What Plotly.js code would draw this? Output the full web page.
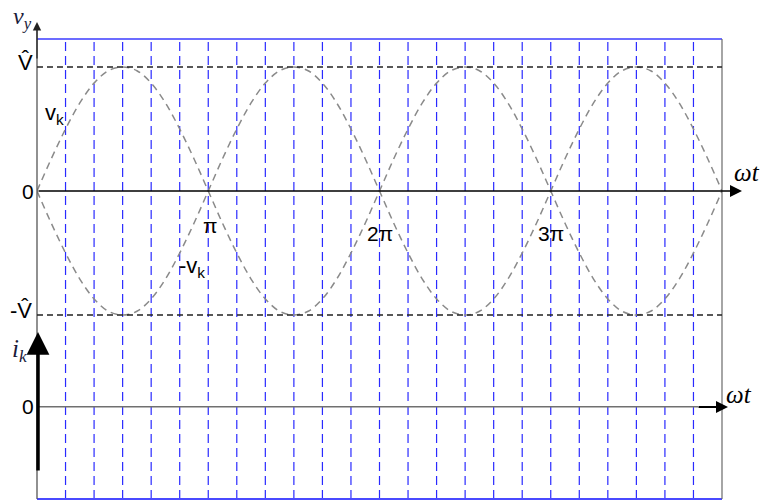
<!DOCTYPE html>
<html>
<head>
<meta charset="utf-8">
<script src="https://cdn.plot.ly/plotly-3.0.1.min.js"></script>
<style>html,body{margin:0;padding:0;background:#fff;}#chart{width:774px;height:504px;}</style>
</head>
<body>
<div id="chart"></div>
<script>
// ---- data ----
// angle samples, in units of pi/12 (0 .. 4*pi)
var sampleSteps = [0,1,2,3,4,5,6,7,8,9,10,11,12,13,14,15,16,17,18,19,20,21,22,23,24,
  25,26,27,28,29,30,31,32,33,34,35,36,37,38,39,40,41,42,43,44,45,46,47,48];
// v_k (in units of V-hat)
var vk = [0,0.26,0.5,0.71,0.87,0.97,1,0.97,0.87,0.71,0.5,0.26,0,
  -0.26,-0.5,-0.71,-0.87,-0.97,-1,-0.97,-0.87,-0.71,-0.5,-0.26,0,
  0.26,0.5,0.71,0.87,0.97,1,0.97,0.87,0.71,0.5,0.26,0,
  -0.26,-0.5,-0.71,-0.87,-0.97,-1,-0.97,-0.87,-0.71,-0.5,-0.26,0];
// -v_k
var negVk = [0,-0.26,-0.5,-0.71,-0.87,-0.97,-1,-0.97,-0.87,-0.71,-0.5,-0.26,0,
  0.26,0.5,0.71,0.87,0.97,1,0.97,0.87,0.71,0.5,0.26,0,
  -0.26,-0.5,-0.71,-0.87,-0.97,-1,-0.97,-0.87,-0.71,-0.5,-0.26,0,
  0.26,0.5,0.71,0.87,0.97,1,0.97,0.87,0.71,0.5,0.26,0];
// vertical dashed grid lines, in units of pi/6
var gridSteps = [1,2,3,4,5,6,7,8,9,10,11,12,13,14,15,16,17,18,19,20,21,22,23];
// level lines (units of V-hat)
var levels = [1, -1];
var levelLabels = ['V\u0302', '-V\u0302'];
// angle tick labels
var piMultiples = [1, 2, 3];
var piLabels = ['\u03c0', '2\u03c0', '3\u03c0'];
var ikZero = -1.74;   // zero of the i_k axis, in the same vertical units

// ---- build ----
var PI = Math.PI;
var xs = sampleSteps.map(function(s){ return s * PI / 12; });

// pixel frame of the plot area
var L = 37, R = 722, T = 39, B = 499, Y0 = 191, UNIT = 124;
var yMin = -(B - Y0) / UNIT, yMax = (Y0 - T) / UNIT;
function px(x){ return (x - L) / (R - L); }
function py(y){ return (B - y) / (B - T); }

// vertical dashed lines as one trace with gaps
var gx = [], gy = [];
gridSteps.forEach(function(s){
  var v = s * PI / 6;
  gx.push(v, v, null); gy.push(yMin, yMax, null);
});

var curveStyle = {color: '#8a8a8a', width: 1.5, dash: '7px,5px'};
var traces = [
  {x: gx, y: gy, mode: 'lines', line: {color: '#2a2aff', width: 1.2, dash: '9px,5px'},
    hoverinfo: 'skip', showlegend: false, connectgaps: false},
  {x: xs, y: vk, mode: 'lines', line: Object.assign({shape: 'spline'}, curveStyle), hoverinfo: 'skip', showlegend: false},
  {x: xs, y: negVk, mode: 'lines', line: Object.assign({shape: 'spline'}, curveStyle), hoverinfo: 'skip', showlegend: false}
];

var sans = 'Liberation Sans, Arial, sans-serif';
var serif = 'Liberation Serif, Times New Roman, serif';

var shapes = [
  // top and bottom blue borders
  {type: 'line', xref: 'paper', yref: 'paper', x0: 0, x1: 1, y0: 1, y1: 1, line: {color: '#3b3bff', width: 1.5}},
  {type: 'line', xref: 'paper', yref: 'paper', x0: 0, x1: 1, y0: 0, y1: 0, line: {color: '#4a4aff', width: 2}},
  // right border
  {type: 'line', xref: 'paper', yref: 'paper', x0: 1, x1: 1, y0: 0, y1: 1, line: {color: '#6a6a6a', width: 1.2}},
  // left border
  {type: 'line', xref: 'paper', yref: 'paper', x0: 0, x1: 0, y0: 0, y1: py(30), line: {color: '#555555', width: 1.3}},
  // lower i_k zero line (gray part)
  {type: 'line', xref: 'paper', yref: 'y', x0: 0, x1: px(698), y0: ikZero, y1: ikZero, line: {color: '#707070', width: 1.5}}
];
levels.forEach(function(v){
  shapes.push({type: 'line', xref: 'x', yref: 'y', x0: 0, x1: 4 * PI, y0: v, y1: v,
    line: {color: '#222222', width: 1.3, dash: '6px,4px'}});
});

var annotations = [];
function arrow(xTip, yTip, xTail, yTail, w, size, color){
  annotations.push({xref: 'paper', yref: 'paper', x: px(xTip), y: py(yTip),
    ax: xTail - xTip, ay: yTail - yTip, axref: 'pixel', ayref: 'pixel',
    text: '', showarrow: true, arrowhead: 2, arrowsize: size, arrowwidth: w, arrowcolor: color});
}
// omega-t axis (upper)
arrow(742, 191, 37, 191, 1.5, 1.6, '#000000');
// v_y axis
arrow(37, 22, 37, 60, 1.2, 1.4, '#222222');
// i_k axis (thick)
arrow(38, 332, 38, 472, 3.5, 1.3, '#000000');
// lower omega-t axis (black end)
arrow(728, 407, 697, 407, 2, 1.2, '#000000');

function label(text, x, y, size, family, color){
  annotations.push({xref: 'paper', yref: 'paper', x: px(x), y: py(y), text: text, showarrow: false,
    xanchor: 'center', yanchor: 'middle', font: {family: family, size: size, color: color || '#000'}});
}
label('<i>v<sub>y</sub></i>', 22, 18, 24, serif, '#1a1a3a');
label(levelLabels[0], 25, Y0 - levels[0] * UNIT - 5, 22, sans);
label(levelLabels[1], 21, Y0 - levels[1] * UNIT - 5, 22, sans);
label('0', 28, Y0 + 1, 21, sans);
label('<i>i<sub>k</sub></i>', 20, 350, 25, serif, '#1a1a3a');
label('0', 28, Y0 - ikZero * UNIT, 21, sans);
label('v<sub>k</sub>', 54, 114, 22, sans);
label('-v<sub>k</sub>', 192, 267, 22, sans);
label('<i>\u03c9t</i>', 747, 172, 25, serif);
label('<i>\u03c9t</i>', 739, 394, 25, serif);
piMultiples.forEach(function(m, i){
  annotations.push({xref: 'x', yref: 'paper', x: m * PI, y: py(i === 0 ? 225 : 233), text: piLabels[i],
    showarrow: false, xanchor: 'center', yanchor: 'middle', xshift: i === 0 ? 2 : 0,
    font: {family: sans, size: 21, color: '#000'}});
});

var layout = {
  width: 774, height: 504,
  margin: {l: L, r: 774 - R, t: T, b: 504 - B, pad: 0},
  paper_bgcolor: '#ffffff', plot_bgcolor: '#ffffff',
  showlegend: false,
  xaxis: {range: [0, 4 * PI], showticklabels: false, ticks: '', showgrid: false,
    zeroline: false, showline: false, fixedrange: true},
  yaxis: {range: [yMin, yMax], showgrid: false, zeroline: false,
    showticklabels: false, ticks: '', showline: false, fixedrange: true},
  shapes: shapes,
  annotations: annotations
};
Plotly.newPlot('chart', traces, layout, {displayModeBar: false, staticPlot: true});
</script>
</body>
</html>
